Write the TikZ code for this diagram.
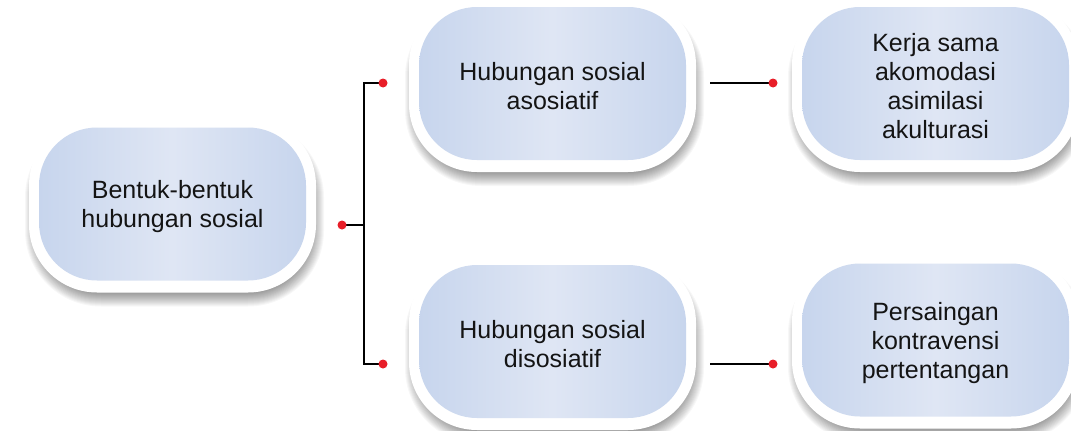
\documentclass[tikz,border=0pt]{standalone}
\usepackage{fontspec}
\setmainfont{Liberation Sans}
\definecolor{pillEdge}{RGB}{199,213,237}
\definecolor{pillMid}{RGB}{223,230,244}
\definecolor{dotRed}{RGB}{232,30,40}
\definecolor{ink}{RGB}{20,20,20}

\tikzset{
  pill/.style={rounded corners=58pt, minimum width=267pt, minimum height=153pt,
    inner sep=0pt, left color=pillEdge, right color=pillEdge, middle color=pillMid},
  pilltext/.style={inner sep=0pt, align=center, font=\fontsize{25}{29}\selectfont, text=ink},
  wire/.style={line width=2pt, draw=black},
  joint/.style={fill=dotRed}
}

% soft shadow falling below, white rim, then the shaded rounded box with its label
\newcommand\pillat[4]{%
  \foreach \k in {1,...,14}{%
    \pgfmathsetmacro\rr{62+\k}%
    \fill[black, opacity=0.03, rounded corners=\rr pt]
      ({#2-135.5-\k+2},{#3-80.5-\k+12}) rectangle ({#2+135.5+\k+2},{#3+80.5+\k+8});
  }
  \fill[white, rounded corners=68pt]
    ({#2-143.5},{#3-86.5}) rectangle ({#2+143.5},{#3+88.5});
  \node[pill] (#1) at (#2,#3) {};
  \node[pilltext] (#1-text) at ([yshift=-3pt]#1.center) {#4};
}

\begin{document}
\begin{tikzpicture}[x=1pt,y=-1pt]
  \useasboundingbox[fill=white] (0,0) rectangle (1071,431);

  \pillat{root}{172.5}{204}{Bentuk-bentuk\\hubungan sosial}
  \pillat{asos}{552.5}{83.5}{Hubungan sosial\\asosiatif}
  \pillat{disos}{552.5}{341.5}{Hubungan sosial\\disosiatif}
  \pillat{asoslist}{935.5}{83.5}{Kerja sama\\akomodasi\\asimilasi\\akulturasi}
  \pillat{disoslist}{935.5}{340}{Persaingan\\kontravensi\\pertentangan}

  % bracket between the root and the two branches
  \coordinate (rootEnd) at (342,225);
  \coordinate (barTop) at (364,83);
  \coordinate (barMid) at (364,225);
  \coordinate (barBot) at (364,364);
  \coordinate (asosEnd) at (383,83);
  \coordinate (disosEnd) at (383,364);
  \draw[wire] (rootEnd) -- (barMid);
  \draw[wire] (asosEnd) -- (barTop) -- (barBot) -- (disosEnd);

  % links from each branch to its list
  \coordinate (asosOut) at (710,83);
  \coordinate (asosIn) at (773,83);
  \coordinate (disosOut) at (710,364);
  \coordinate (disosIn) at (773,364);
  \draw[wire] (asosOut) -- (asosIn);
  \draw[wire] (disosOut) -- (disosIn);

  \foreach \p in {rootEnd,asosEnd,disosEnd,asosIn,disosIn}
    \fill[joint] (\p) circle (4.5pt);
\end{tikzpicture}
\end{document}
